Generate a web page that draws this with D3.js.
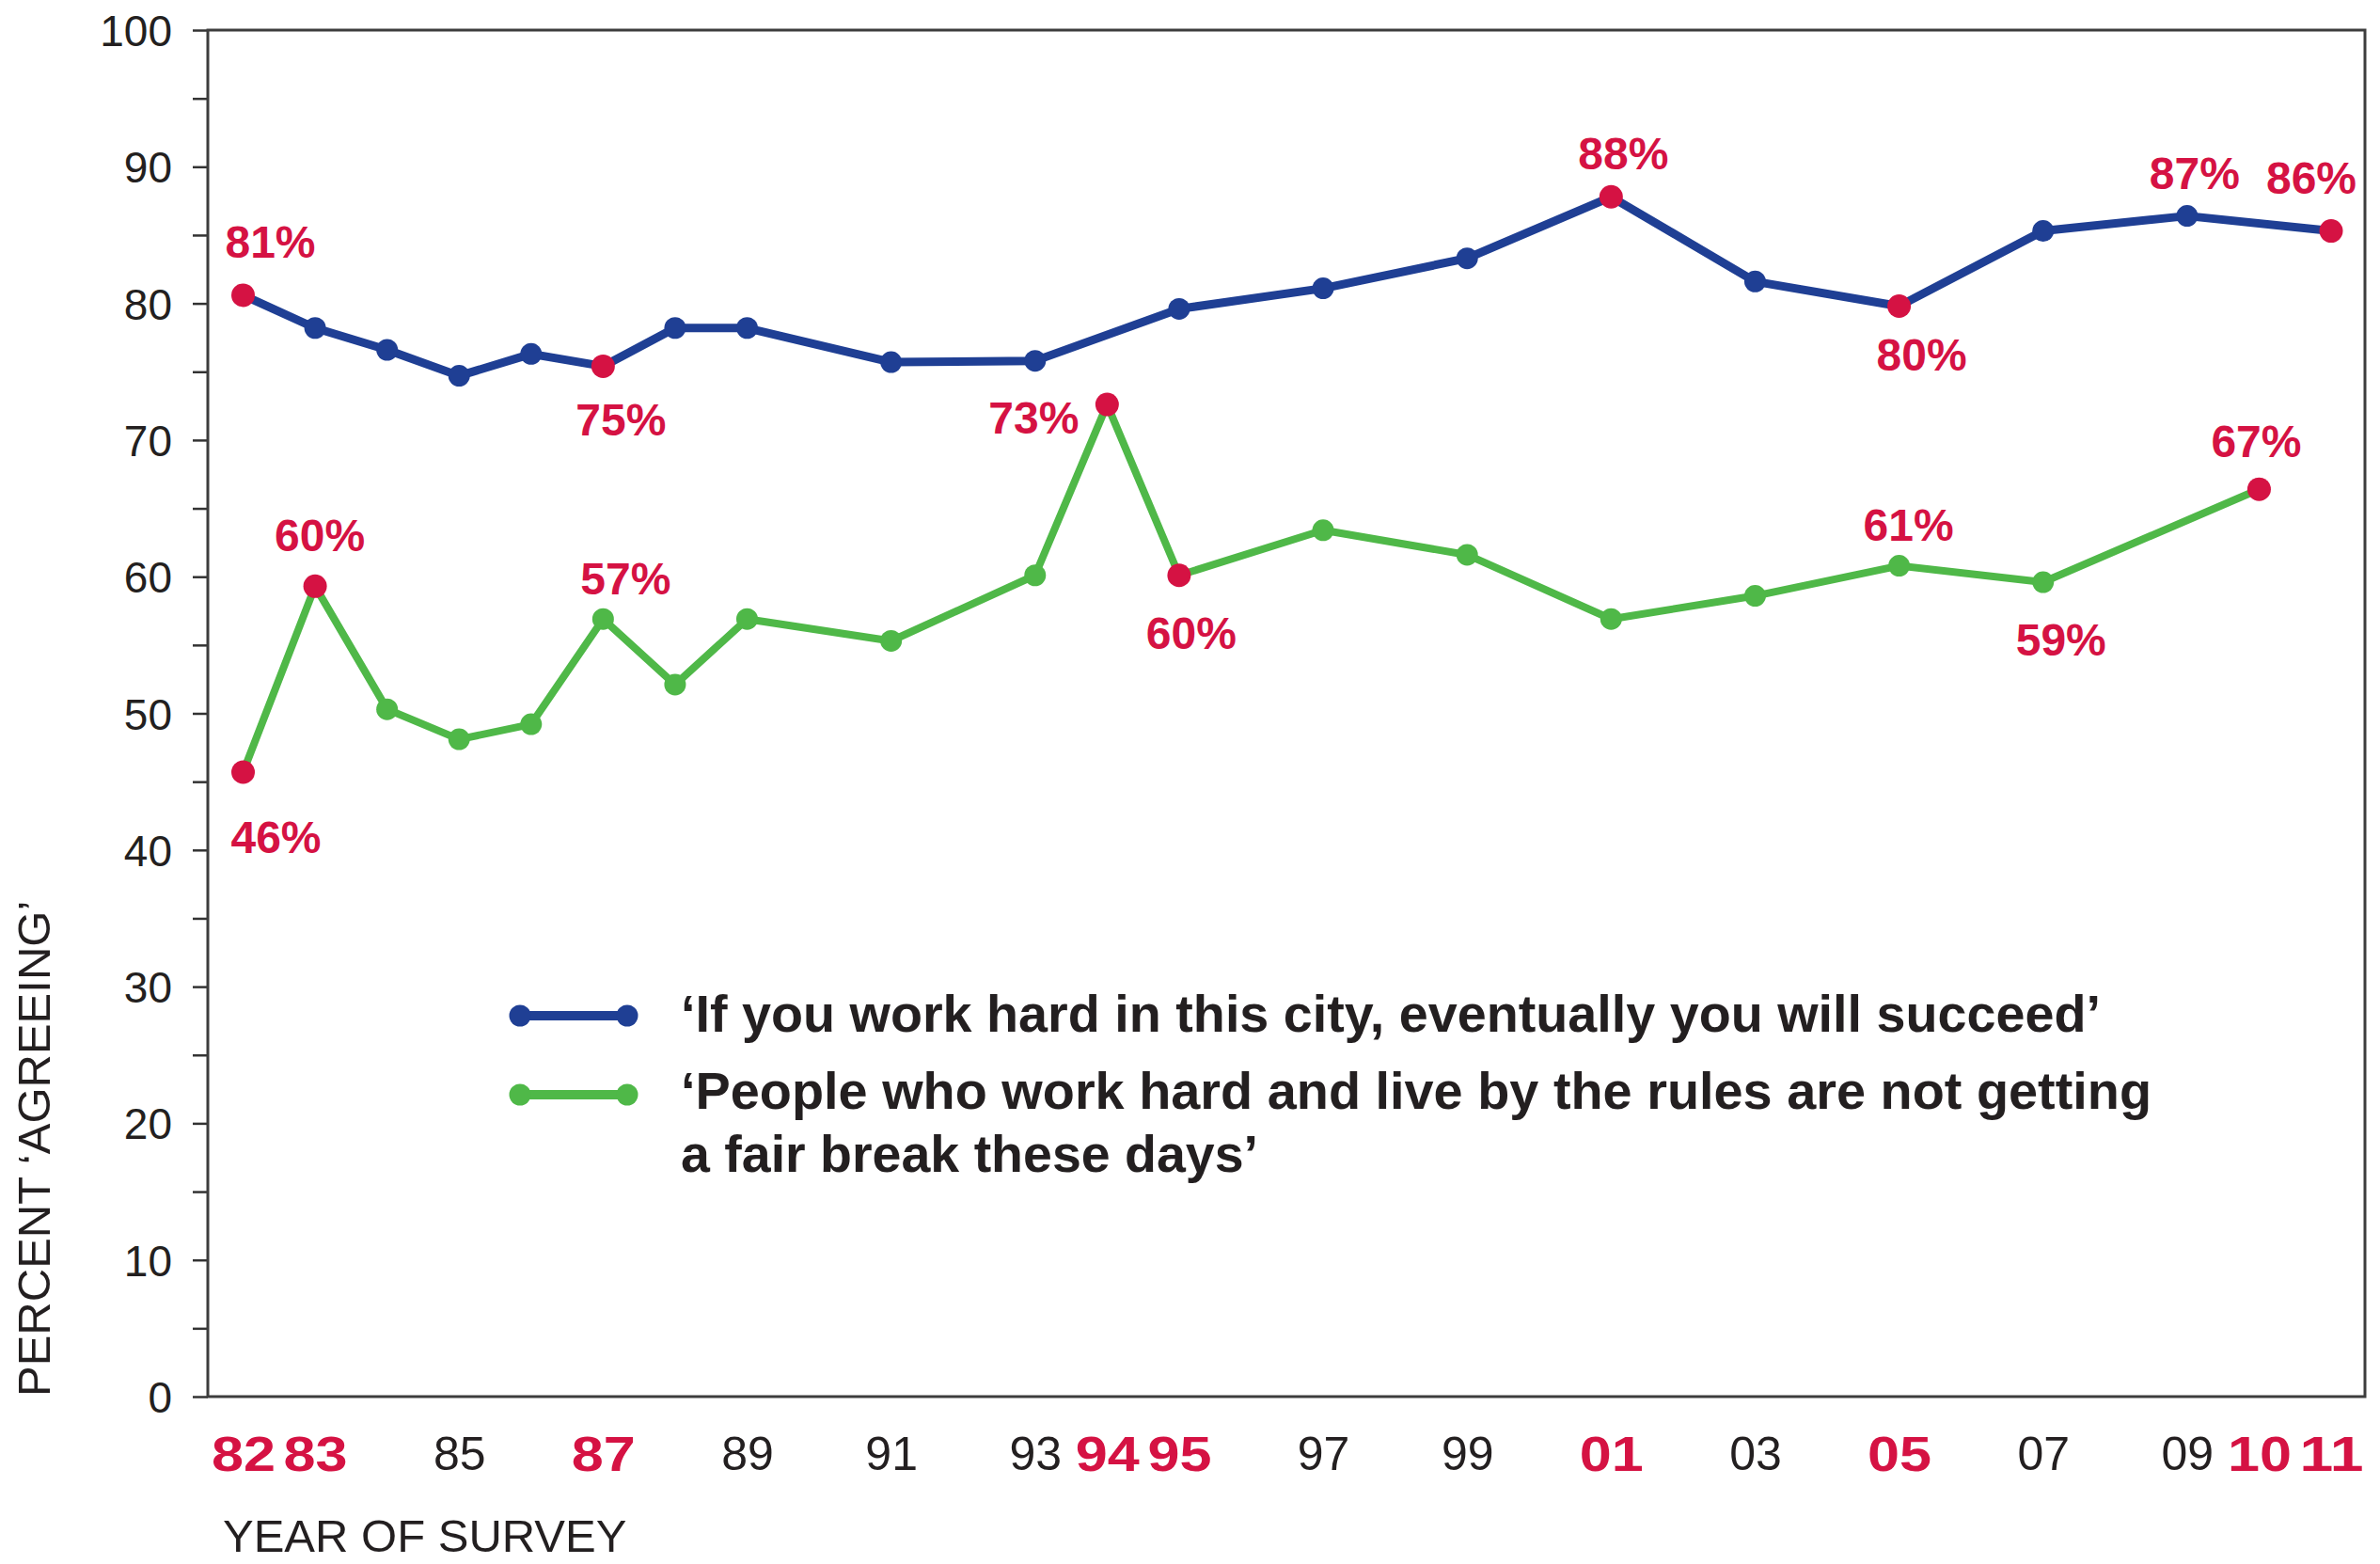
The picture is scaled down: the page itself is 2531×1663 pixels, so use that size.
<!DOCTYPE html>
<html>
<head>
<meta charset="utf-8">
<script src="https://cdn.jsdelivr.net/npm/d3@7"></script>
<style>
  body { margin: 0; background: #fff; }
  svg { display: block; }
  text { font-family: "Liberation Sans", Arial, Helvetica, sans-serif; }
</style>
</head>
<body>
<div id="chartDiv"></div>
<script>
// survey years and percent agreeing
var succeedYears  = [1982, 1983, 1984, 1985, 1986, 1987, 1988, 1989, 1991, 1993, 1995, 1997, 1999, 2001, 2003, 2005, 2007, 2009, 2011];
var succeedValues = [80.6, 78.2, 76.6, 74.7, 76.3, 75.4, 78.2, 78.2, 75.7, 75.8, 79.6, 81.1, 83.3, 87.8, 81.6, 79.8, 85.3, 86.4, 85.3];
var succeedRed    = [1982, 1987, 2001, 2005, 2011];

var fairYears  = [1982, 1983, 1984, 1985, 1986, 1987, 1988, 1989, 1991, 1993, 1994, 1995, 1997, 1999, 2001, 2003, 2005, 2007, 2010];
var fairValues = [45.7, 59.3, 50.3, 48.1, 49.2, 56.9, 52.1, 56.9, 55.3, 60.1, 72.6, 60.1, 63.4, 61.6, 56.9, 58.6, 60.8, 59.6, 66.4];
var fairRed    = [1982, 1983, 1994, 1995, 2010];

// annotations: which series, which year, the text printed
var labelSeries = ["s", "s", "s", "s", "s", "s", "f", "f", "f", "f", "f", "f", "f", "f"];
var labelYears  = [1982, 1987, 2001, 2005, 2009, 2011, 1982, 1983, 1987, 1994, 1995, 2005, 2007, 2010];
var labelTexts  = ["81%", "75%", "88%", "80%", "87%", "86%", "46%", "60%", "57%", "73%", "60%", "61%", "59%", "67%"];

var yearTicks  = [1982, 1983, 1985, 1987, 1989, 1991, 1993, 1994, 1995, 1997, 1999, 2001, 2003, 2005, 2007, 2009, 2010, 2011];
var yearBold   = [1982, 1983, 1987, 1994, 1995, 2001, 2005, 2010, 2011];

var legendTexts = [
	"\u2018If you work hard in this city, eventually you will succeed\u2019",
	"\u2018People who work hard and live by the rules are not getting",
	"a fair break these days\u2019"
];

;(function() {

	var width = 2531;
	var height = 1663;
	var margin = { top: 32, right: 16, bottom: 178, left: 221 };
	var chartWidth = width - margin.left - margin.right;
	var chartHeight = height - margin.top - margin.bottom;

	var blue = "#1f3f94";
	var green = "#4fb848";
	var red = "#d51243";
	var ink = "#231f20";

	// per-label placement (layout only)
	var placement = {
		"s1982": [29, -40], "s1987": [19, 74], "s2001": [13, -29], "s2005": [24, 68],
		"s2009": [8, -29], "s2011": [-21, -40],
		"f1982": [35, 86], "f1983": [5, -37], "f1987": [24, -26], "f1994": [-30, 31, "end"],
		"f1995": [13, 78], "f2005": [10, -27], "f2007": [19, 78], "f2010": [-3, -34]
	};

	var svg = d3.select("#chartDiv").append("svg")
		.attr("width", width)
		.attr("height", height);

	var plot = svg.append("g")
		.attr("transform", "translate(" + margin.left + "," + margin.top + ")");

	var x = d3.scaleLinear()
		.domain([1981.51, 2011.47])
		.range([0, chartWidth]);

	var y = d3.scaleLinear()
		.domain([0, 100])
		.range([chartHeight, 0]);

	// y axis
	var yAxis = d3.axisLeft(y)
		.tickValues(d3.range(0, 101, 5))
		.tickSize(16)
		.tickPadding(22)
		.tickFormat(function(d) { return d % 10 === 0 ? d : ""; });

	var yG = plot.append("g").call(yAxis);
	yG.select(".domain").remove();
	yG.selectAll(".tick line").attr("stroke", "#333").attr("stroke-width", 2.5);
	yG.selectAll(".tick text")
		.attr("fill", ink)
		.style("font-size", "46px")
		.attr("dy", "0.36em");

	// frame
	plot.append("rect")
		.attr("x", 0).attr("y", 0)
		.attr("width", chartWidth).attr("height", chartHeight)
		.attr("fill", "none")
		.attr("stroke", "#3d3d3d")
		.attr("stroke-width", 3);

	// x axis labels
	var xAxis = d3.axisBottom(x)
		.tickValues(yearTicks)
		.tickSize(0)
		.tickPadding(42)
		.tickFormat(function(d) { return d3.format("02")(d % 100); });

	var xG = plot.append("g")
		.attr("transform", "translate(0," + chartHeight + ")")
		.call(xAxis);
	xG.select(".domain").remove();
	xG.selectAll(".tick text")
		.attr("fill", ink)
		.style("font-size", "50px");
	xG.selectAll(".tick text")
		.filter(function(d) { return yearBold.indexOf(d) >= 0; })
		.attr("fill", red)
		.attr("textLength", 68)
		.attr("lengthAdjust", "spacingAndGlyphs")
		.style("font-weight", "bold")
		.style("font-size", "52px");

	// axis titles
	svg.append("text")
		.attr("transform", "translate(53," + (margin.top + chartHeight) + ") rotate(-90)")
		.attr("fill", ink)
		.style("font-size", "49px")
		.text("PERCENT \u2018AGREEING\u2019");

	svg.append("text")
		.attr("x", 237)
		.attr("y", 1650)
		.attr("fill", ink)
		.style("font-size", "49px")
		.text("YEAR OF SURVEY");

	// lines
	var line = d3.line()
		.x(function(d) { return x(d[0]); })
		.y(function(d) { return y(d[1]); });

	var succeed = d3.zip(succeedYears, succeedValues);
	var fair = d3.zip(fairYears, fairValues);

	function drawSeries(data, color, redYears, width) {
		plot.append("path")
			.datum(data)
			.attr("fill", "none")
			.attr("stroke", color)
			.attr("stroke-width", width)
			.attr("stroke-linejoin", "round")
			.attr("d", line);

		plot.selectAll(null)
			.data(data)
			.enter().append("circle")
				.attr("cx", function(d) { return x(d[0]); })
				.attr("cy", function(d) { return y(d[1]); })
				.attr("r", function(d) { return redYears.indexOf(d[0]) >= 0 ? 12.5 : 11.5; })
				.attr("fill", function(d) { return redYears.indexOf(d[0]) >= 0 ? red : color; });
	}

	drawSeries(fair, green, fairRed, 8);
	drawSeries(succeed, blue, succeedRed, 9);

	// annotations
	labelTexts.forEach(function(t, i) {
		var yr = labelYears[i];
		var vals = labelSeries[i] === "s" ? succeed : fair;
		var pt = vals.filter(function(d) { return d[0] === yr; })[0];
		var p = placement[labelSeries[i] + yr];
		plot.append("text")
			.attr("x", x(pt[0]) + p[0])
			.attr("y", y(pt[1]) + p[1])
			.attr("text-anchor", p[2] || "middle")
			.attr("fill", red)
			.style("font-size", "48px")
			.style("font-weight", "bold")
			.text(t);
	});

	// legend
	var legend = svg.append("g");
	var legendRows = [
		{ color: blue, y: 1080 },
		{ color: green, y: 1164 }
	];
	legendRows.forEach(function(r) {
		legend.append("line")
			.attr("x1", 553).attr("x2", 667)
			.attr("y1", r.y).attr("y2", r.y)
			.attr("stroke", r.color)
			.attr("stroke-width", 10);
		[553, 667].forEach(function(cx) {
			legend.append("circle")
				.attr("cx", cx).attr("cy", r.y)
				.attr("r", 11.5)
				.attr("fill", r.color);
		});
	});

	var legendLayout = [
		{ y: 1097, len: 1510 },
		{ y: 1179, len: 1564 },
		{ y: 1246, len: 614 }
	];
	legendTexts.forEach(function(t, i) {
		legend.append("text")
			.attr("x", 724)
			.attr("y", legendLayout[i].y)
			.attr("fill", ink)
			.attr("textLength", legendLayout[i].len)
			.attr("lengthAdjust", "spacingAndGlyphs")
			.style("font-size", "56px")
			.style("font-weight", "bold")
			.text(t);
	});

})();
</script>
</body>
</html>
